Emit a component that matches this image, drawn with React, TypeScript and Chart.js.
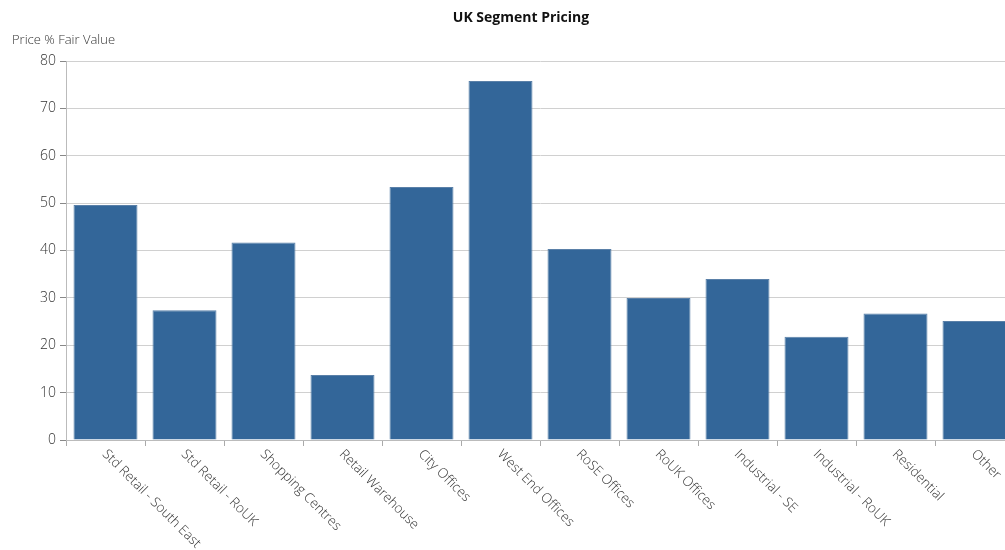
import React, { useEffect, useRef } from "react";
import { Chart, registerables } from "chart.js";

Chart.register(...registerables);

const categories = [
  "Std Retail - South East",
  "Std Retail - RoUK",
  "Shopping Centres",
  "Retail Warehouse",
  "City Offices",
  "West End Offices",
  "RoSE Offices",
  "RoUK Offices",
  "Industrial - SE",
  "Industrial - RoUK",
  "Residential",
  "Other",
];
const priceValues = [49.6, 27.4, 41.7, 13.7, 53.4, 75.8, 40.3, 30.0, 34.0, 21.8, 26.7, 25.1];
const yTicks = [0, 10, 20, 30, 40, 50, 60, 70, 80];
const chartTitle = "UK Segment Pricing";
const yAxisTitle = "Price % Fair Value";

const FONT = "'Open Sans', 'Noto Sans', sans-serif";

const textPlugin = {
  id: "customText",
  afterDraw(chart: any) {
    const ctx = chart.ctx;
    const x = chart.scales.x;
    const area = chart.chartArea;
    ctx.save();
    // title
    ctx.fillStyle = "#111";
    ctx.font = `bold 14px ${FONT}`;
    ctx.textAlign = "center";
    ctx.textBaseline = "middle";
    ctx.fillText(chartTitle, 521, 18);
    // y axis title
    ctx.fillStyle = "#333";
    ctx.font = `300 13px ${FONT}`;
    ctx.textAlign = "left";
    ctx.fillText(yAxisTitle, 12, 40);
    // rotated x labels
    ctx.font = `300 13.5px ${FONT}`;
    ctx.fillStyle = "#333";
    categories.forEach((label, i) => {
      const px = x.getPixelForValue(i);
      ctx.save();
      ctx.translate(px - 1, area.bottom + 12);
      ctx.rotate(Math.PI / 4);
      ctx.textAlign = "left";
      ctx.textBaseline = "middle";
      ctx.fillText(label, 0, 0);
      ctx.restore();
    });
    ctx.restore();
  },
};

export default function App() {
  const ref = useRef<HTMLCanvasElement | null>(null);
  useEffect(() => {
    if (!ref.current) return;
    const chart = new Chart(ref.current, {
      type: "bar",
      data: {
        labels: categories,
        datasets: [
          {
            data: priceValues,
            backgroundColor: "#336699",
            borderColor: "#5a80a8",
            borderWidth: 1,
            categoryPercentage: 0.81,
            barPercentage: 1,
          },
        ],
      },
      options: {
        animation: false,
        responsive: false,
        maintainAspectRatio: false,
        layout: { padding: { top: 61, right: 6, left: 0, bottom: 0 } },
        plugins: {
          legend: { display: false },
          title: { display: false },
          tooltip: { enabled: false },
        },
        scales: {
          x: {
            afterFit(scale: any) {
              scale.height = 110;
            },
            ticks: { display: false },
            grid: {
              drawOnChartArea: false,
              drawTicks: true,
              tickLength: 6,
              color: "#aaa",
              offset: true,
            },
            border: { color: "#bbb" },
          },
          y: {
            min: 0,
            max: 80,
            afterFit(scale: any) {
              scale.width = 66;
            },
            afterBuildTicks(scale: any) {
              scale.ticks = yTicks.map((v) => ({ value: v }));
            },
            ticks: {
              color: "#333",
              padding: 4,
              font: { family: FONT, size: 14, weight: 300 as any },
            },
            grid: { color: "#d0d0d0", tickLength: 6, tickColor: "#888" },
            border: { color: "#bbb" },
          },
        },
      },
      plugins: [textPlugin],
    });
    return () => chart.destroy();
  }, []);
  return (
    <div style={{ position: "fixed", left: 0, top: 0, width: 1005, height: 550, overflow: "hidden", background: "#fff" }}>
      <canvas ref={ref} width={1020} height={550} style={{ display: "block", width: 1020, height: 550 }} />
    </div>
  );
}
